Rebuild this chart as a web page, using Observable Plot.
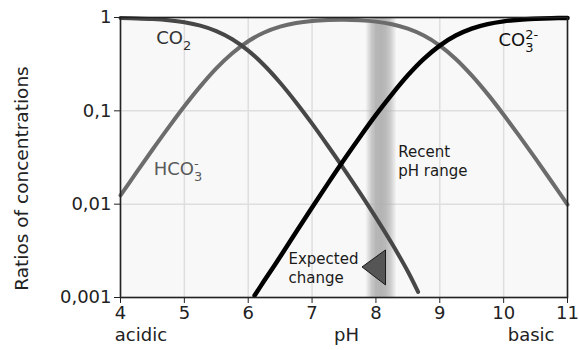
<!DOCTYPE html>
<html>
<head>
<meta charset="utf-8">
<script src="https://cdn.jsdelivr.net/npm/d3@7"></script>
<script src="https://cdn.jsdelivr.net/npm/@observablehq/plot@0.6"></script>
<style>
  body { margin: 0; background: #fff; }
  #chart svg { display: block; }
</style>
</head>
<body>
<div id="chart"></div>
<script>
// ---- data ----
const co2PH    = [4, 4.25, 4.5, 4.75, 5, 5.25, 5.5, 5.75, 6, 6.25, 6.5, 6.75, 7, 7.25, 7.5, 7.75, 8, 8.25, 8.5, 8.66];
const co2Ratio = [0.988, 0.978, 0.962, 0.934, 0.888, 0.817, 0.715, 0.585, 0.442, 0.308, 0.200, 0.123, 0.0729, 0.042, 0.0238, 0.0132, 0.00717, 0.00378, 0.0019, 0.00115];

const hco3PH    = [4, 4.25, 4.5, 4.75, 5, 5.25, 5.5, 5.75, 6, 6.25, 6.5, 6.75, 7, 7.25, 7.5, 7.75, 8, 8.25, 8.5, 8.75, 9, 9.25, 9.5, 9.75, 10, 10.25, 10.5, 10.75, 11];
const hco3Ratio = [0.0124, 0.0219, 0.0383, 0.0661, 0.112, 0.183, 0.285, 0.414, 0.557, 0.690, 0.797, 0.872, 0.918, 0.941, 0.946, 0.934, 0.903, 0.846, 0.758, 0.640, 0.500, 0.360, 0.240, 0.151, 0.0909, 0.0532, 0.0307, 0.0175, 0.0099];

const co3PH    = [6.1, 6.25, 6.5, 6.75, 7, 7.25, 7.5, 7.75, 8, 8.25, 8.5, 8.75, 9, 9.25, 9.5, 9.75, 10, 10.25, 10.5, 10.75, 11];
const co3Ratio = [0.00105, 0.00151, 0.00273, 0.00503, 0.0092, 0.0167, 0.0299, 0.0525, 0.0903, 0.150, 0.240, 0.360, 0.500, 0.640, 0.760, 0.849, 0.909, 0.947, 0.969, 0.983, 0.990];

const xTicks = [4, 5, 6, 7, 8, 9, 10, 11];
const yTicks = [1, 0.1, 0.01, 0.001];
const yTickLabels = ["1", "0,1", "0,01", "0,001"];

const recentRange = [7.84, 8.33];          // recent pH range (blurred band)
const expectedArrow = [{pH: 8.15, ratio: 0.0021}];

const speciesBase = ["CO", "HCO", "CO"];
const speciesSub  = ["2", "3", "3"];
const speciesSup  = ["", "-", "2-"];
const speciesX    = [4.56, 4.52, 9.92];
const speciesY    = [0.6, 0.0238, 0.567];
const speciesColor = ["#333333", "#5a5a5a", "#111111"];

const noteText = ["Recent\npH range", "Expected\nchange"];
const noteX    = [8.35, 6.63];
const noteY    = [0.0297, 0.00212];

const bottomText = ["acidic", "pH", "basic"];
const bottomX    = [4.32, 7.54, 10.43];

// ---- build ----
const series = (xs, ys) => xs.map((x, i) => ({pH: x, ratio: ys[i]}));
const speciesPlain = speciesBase.map((b, i) => b + speciesSub[i] + speciesSup[i]);
const species = speciesBase.map((b, i) => ({
  text: speciesPlain[i], x: speciesX[i], y: speciesY[i], color: speciesColor[i]
}));
const notes = noteText.map((t, i) => ({text: t, x: noteX[i], y: noteY[i]}));
const bottoms = bottomText.map((t, i) => ({text: t, x: bottomX[i]}));

const leftTriangle = {
  draw(ctx) {
    ctx.moveTo(0, -17.5);
    ctx.lineTo(0, 17.5);
    ctx.lineTo(-23.5, -0.5);
    ctx.closePath();
  }
};

const svg = Plot.plot({
  width: 579,
  height: 350,
  marginLeft: 120,
  marginRight: 12,
  marginTop: 17,
  marginBottom: 53,
  x: {domain: [4, 11]},
  y: {type: "log", domain: [0.001, 1]},
  style: {fontFamily: "'DejaVu Sans', sans-serif", fontSize: "18px", color: "#222", background: "white"},
  marks: [
    Plot.frame({fill: "#f8f8f8", stroke: null}),
    Plot.gridX({ticks: xTicks, stroke: "#dedede", strokeOpacity: 1, strokeWidth: 1.5}),
    Plot.gridY({ticks: yTicks, stroke: "#dedede", strokeOpacity: 1, strokeWidth: 1.5}),
    Plot.rect([recentRange], {x1: d => d[0], x2: d => d[1], fill: "#a7a7a7"}),
    Plot.line(series(hco3PH, hco3Ratio), {x: "pH", y: "ratio", stroke: "#6c6c6c", strokeWidth: 4, curve: "catmull-rom"}),
    Plot.line(series(co2PH, co2Ratio), {x: "pH", y: "ratio", stroke: "#474747", strokeWidth: 4, curve: "catmull-rom"}),
    Plot.line(series(co3PH, co3Ratio), {x: "pH", y: "ratio", stroke: "#000000", strokeWidth: 4.5, curve: "catmull-rom"}),
    Plot.dot(expectedArrow, {x: "pH", y: "ratio", symbol: leftTriangle, r: 10, fill: "#555555", stroke: "#1a1a1a", strokeWidth: 1}),
    Plot.frame({stroke: "#222", strokeWidth: 1.6}),
    Plot.axisX({ticks: xTicks, tickFormat: d => String(d), tickSize: 6, tickPadding: 3, fontSize: 18, label: null}),
    Plot.axisY({ticks: yTicks, tickFormat: d => yTickLabels[yTicks.indexOf(d)], tickSize: 6, tickPadding: 3, fontSize: 18, label: null}),
    Plot.text(species, {x: "x", y: "y", text: "text", fill: "color", textAnchor: "start", fontSize: 18}),
    Plot.text(notes, {x: "x", y: "y", text: "text", textAnchor: "start", fontSize: 15, lineHeight: 1.27, fill: "#1a1a1a"}),
    Plot.text(bottoms, {x: "x", text: "text", frameAnchor: "bottom", dy: 43, fontSize: 18, fill: "#222"}),
    Plot.text(["Ratios of concentrations"], {frameAnchor: "left", textAnchor: "middle", rotate: -90, dx: -98, dy: 21, fontSize: 18.5, fill: "#222"})
  ]
});

document.getElementById("chart").appendChild(svg);

// gradient for the blurred "recent pH range" band
const ns = "http://www.w3.org/2000/svg";
const defs = d3.select(svg).insert("defs", ":first-child");
const grad = defs.append("linearGradient").attr("id", "bandGrad")
  .attr("x1", "0").attr("x2", "1").attr("y1", "0").attr("y2", "0");
[[0, 0], [0.08, 0.25], [0.2, 0.62], [0.35, 0.85], [0.5, 0.9], [0.65, 0.82], [0.8, 0.6], [0.92, 0.25], [1, 0]]
  .forEach(([o, a]) => grad.append("stop").attr("offset", o).attr("stop-color", "#acacac").attr("stop-opacity", a));
d3.select(svg).selectAll("rect").each(function() {
  const own = this.getAttribute("fill");
  const parent = this.parentNode && this.parentNode.getAttribute && this.parentNode.getAttribute("fill");
  if (own === "#a7a7a7" || parent === "#a7a7a7") this.setAttribute("fill", "url(#bandGrad)");
});

// chemical formulas with stacked subscripts / superscripts
d3.select(svg).selectAll("text").each(function() {
  const t = this;
  const i = speciesPlain.indexOf(t.textContent);
  if (i < 0 || t.querySelector("tspan")) return;
  while (t.firstChild) t.removeChild(t.firstChild);
  const base = document.createElementNS(ns, "tspan");
  base.textContent = speciesBase[i];
  t.appendChild(base);
  const sub = document.createElementNS(ns, "tspan");
  sub.textContent = speciesSub[i];
  sub.setAttribute("font-size", "13px");
  sub.setAttribute("dy", "6");
  t.appendChild(sub);
  if (speciesSup[i]) {
    const w = sub.getComputedTextLength();
    const sup = document.createElementNS(ns, "tspan");
    sup.textContent = speciesSup[i];
    sup.setAttribute("font-size", "13px");
    sup.setAttribute("dx", String(-w));
    sup.setAttribute("dy", "-13");
    t.appendChild(sup);
  }
});
</script>
</body>
</html>
